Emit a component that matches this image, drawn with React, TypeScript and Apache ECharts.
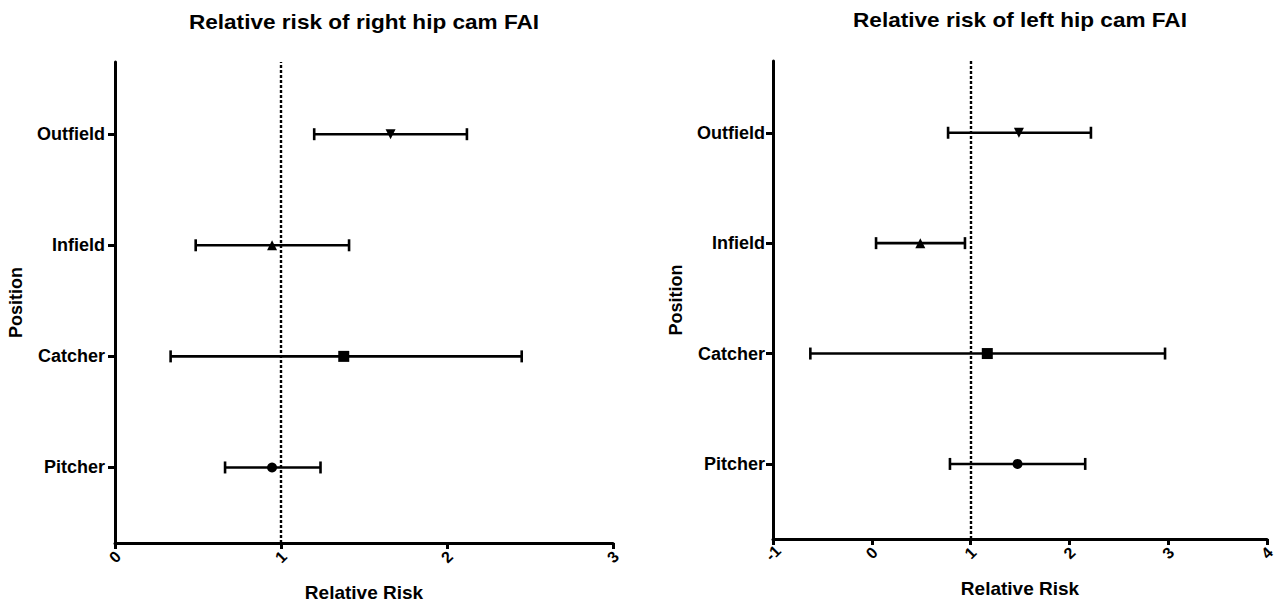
import React, { useEffect, useRef } from "react";
import * as echarts from "echarts";

const categories = ["Pitcher", "Catcher", "Infield", "Outfield"];
const catPos = [1, 2, 3, 4];
const symbols = ["circle", "rect", "triangle", "triangle"];
const symbolRotations = [0, 0, 0, 180];

// Right hip
const rightRR = [0.946, 1.378, 0.946, 1.66];
const rightLow = [0.663, 0.335, 0.486, 1.2];
const rightHigh = [1.238, 2.45, 1.41, 2.12];

// Left hip
const leftRR = [1.475, 1.169, 0.491, 1.489];
const leftLow = [0.791, -0.622, 0.043, 0.772];
const leftHigh = [2.16, 2.968, 0.943, 2.218];

const FONT = "Liberation Sans";

function errRender(params: any, api: any) {
  const lo = api.value(0);
  const hi = api.value(1);
  const y = api.value(2);
  const p1 = api.coord([lo, y]);
  const p2 = api.coord([hi, y]);
  const h = 6;
  const st = { stroke: "#000", lineWidth: 2.6 };
  return {
    type: "group",
    children: [
      { type: "line", shape: { x1: p1[0], y1: p1[1], x2: p2[0], y2: p2[1] }, style: st },
      { type: "line", shape: { x1: p1[0], y1: p1[1] - h, x2: p1[0], y2: p1[1] + h }, style: st },
      { type: "line", shape: { x1: p2[0], y1: p2[1] - h, x2: p2[0], y2: p2[1] + h }, style: st },
    ],
  };
}

function makeX(idx: number, min: number, max: number) {
  return {
    type: "value",
    gridIndex: idx,
    min,
    max,
    interval: 1,
    name: "Relative Risk",
    nameLocation: "middle",
    nameGap: 40,
    nameMoveOverlap: false,
    nameTextStyle: { fontFamily: FONT, fontWeight: "bold", fontSize: 19, color: "#000" },
    axisLine: { show: true, onZero: false, lineStyle: { color: "#000", width: 3 } },
    axisTick: { show: true, length: 6, lineStyle: { color: "#000", width: 3 } },
    axisLabel: {
      rotate: 45,
      margin: 14,
      align: "center",
      verticalAlign: "middle",
      fontFamily: FONT,
      fontWeight: "bold",
      fontSize: 16,
      color: "#000",
    },
    splitLine: { show: false },
  };
}

function makeY(idx: number, nameGap: number, margin: number) {
  return {
    type: "value",
    gridIndex: idx,
    min: 0.32,
    max: 4.65,
    name: "Position",
    nameLocation: "middle",
    nameGap,
    nameRotate: 90,
    nameMoveOverlap: false,
    nameTextStyle: { fontFamily: FONT, fontWeight: "bold", fontSize: 18, color: "#000" },
    axisLine: { show: true, onZero: false, lineStyle: { color: "#000", width: 3 } },
    axisTick: { show: true, length: 7, customValues: catPos, lineStyle: { color: "#000", width: 3 } },
    axisLabel: {
      customValues: catPos,
      margin,
      fontFamily: FONT,
      fontWeight: "bold",
      fontSize: 18,
      color: "#000",
      formatter: (v: number) => categories[Math.round(v) - 1] ?? "",
    },
    splitLine: { show: false },
  };
}

function errSeries(idx: number, lo: number[], hi: number[]) {
  return {
    type: "custom",
    xAxisIndex: idx,
    yAxisIndex: idx,
    renderItem: errRender,
    encode: { x: [0, 1], y: 2 },
    data: catPos.map((p, i) => [lo[i], hi[i], p]),
    z: 3,
    silent: true,
  };
}

function ptSeries(idx: number, rr: number[]) {
  return {
    type: "scatter",
    xAxisIndex: idx,
    yAxisIndex: idx,
    z: 5,
    silent: true,
    data: catPos.map((p, i) => ({
      value: [rr[i], p],
      symbol: symbols[i],
      symbolSize: i === 1 ? 11 : 10,
      symbolRotate: symbolRotations[i],
    })),
    itemStyle: { color: "#000", opacity: 1 },
    markLine: {
      silent: true,
      symbol: "none",
      label: { show: false },
      lineStyle: { color: "#000", width: 2.4, type: [3, 2], opacity: 1 },
      data: [{ xAxis: 1 }],
    },
  };
}

function titleText(text: string, x: number, y: number, scaleX: number) {
  return {
    type: "text",
    x,
    y,
    scaleX,
    style: {
      text,
      fontFamily: FONT,
      fontWeight: "bold",
      fontSize: 20,
      fill: "#000",
      textAlign: "center",
      textVerticalAlign: "middle",
    },
  };
}

export default function App() {
  const ref = useRef<HTMLDivElement>(null);
  useEffect(() => {
    if (!ref.current) return;
    const chart = echarts.init(ref.current, null, { renderer: "svg" });
    chart.setOption({
      animation: false,
      backgroundColor: "#fff",
      grid: [
        { left: 115, top: 62, width: 498, height: 481, outerBoundsMode: "none", containLabel: false },
        { left: 773, top: 61, width: 494, height: 478, outerBoundsMode: "none", containLabel: false },
      ],
      xAxis: [makeX(0, 0, 3), makeX(1, -1, 4)],
      yAxis: [makeY(0, 90, 10), makeY(1, 88, 8)],
      graphic: [
        titleText("Relative risk of right hip cam FAI", 364, 22, 1.13),
        titleText("Relative risk of left hip cam FAI", 1020, 20, 1.13),
      ],
      series: [
        errSeries(0, rightLow, rightHigh),
        ptSeries(0, rightRR),
        errSeries(1, leftLow, leftHigh),
        ptSeries(1, leftRR),
      ],
    });
    return () => chart.dispose();
  }, []);
  return (
    <div
      ref={ref}
      style={{ position: "absolute", left: 0, top: 0, width: 1274, height: 603 }}
    />
  );
}
